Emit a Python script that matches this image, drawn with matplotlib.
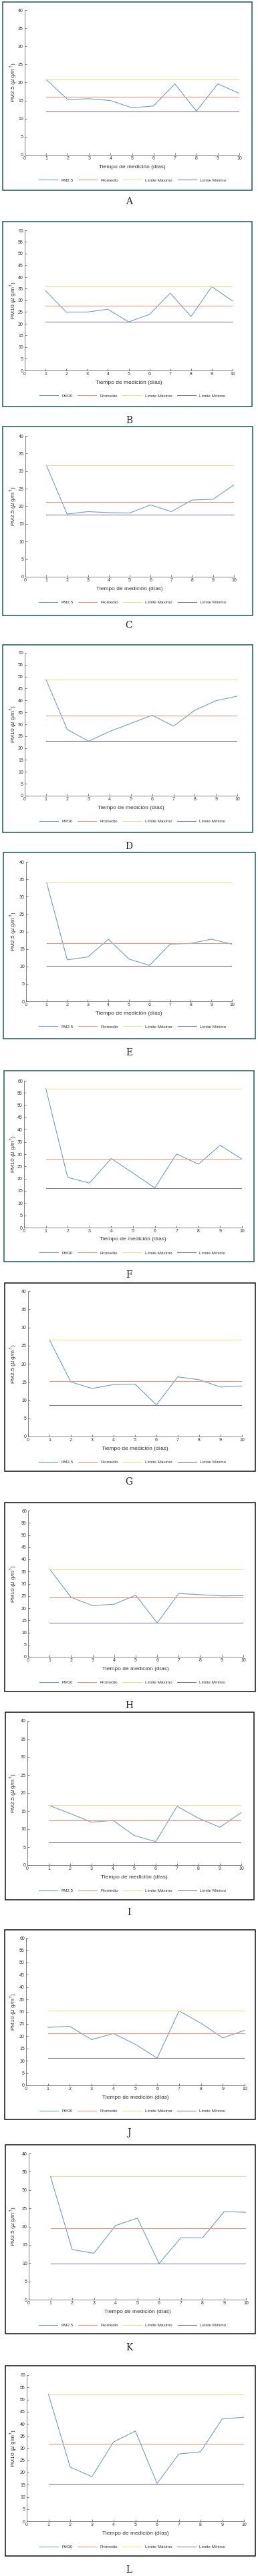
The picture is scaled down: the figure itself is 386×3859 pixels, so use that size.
import matplotlib
matplotlib.use('Agg')
import matplotlib.pyplot as plt
from matplotlib.patches import Rectangle

# datos
dias = [1, 2, 3, 4, 5, 6, 7, 8, 9, 10]
letras = ['A', 'B', 'C', 'D', 'E', 'F', 'G', 'H', 'I', 'J', 'K', 'L']
nombre_leyenda = ['PM2.5', 'PM10', 'PM2,5', 'PM10', 'PM2.5', 'PM10',
                  'PM2,5', 'PM10', 'PM2,5', 'PM10', 'PM2.5', 'PM10']
nombre_eje = ['PM2.5', 'PM10', 'PM2.5', 'PM10', 'PM2,5', 'PM10',
              'PM2.5', 'PM10', 'PM2.5', 'PM10', 'PM2.5', 'PM10']
ymax = [40, 60, 40, 60, 40, 60, 40, 60, 40, 60, 40, 60]

pm_A = [20.8, 15.3, 15.5, 15.0, 13.0, 13.5, 19.6, 12.1, 19.6, 17.0]
pm_B = [34.1, 25.0, 25.0, 26.2, 20.8, 24.0, 33.1, 23.1, 35.9, 29.7]
pm_C = [31.7, 17.8, 18.5, 18.2, 18.1, 20.4, 18.5, 21.8, 22.0, 26.1]
pm_D = [48.8, 27.8, 22.9, 27.0, 30.4, 33.8, 29.2, 35.9, 39.9, 41.8]
pm_E = [34.0, 11.9, 12.7, 17.8, 12.1, 10.3, 16.4, 16.6, 17.8, 16.4]
pm_F = [56.8, 20.5, 18.2, 28.2, 22.3, 16.2, 30.1, 25.9, 33.6, 28.0]
pm_G = [26.6, 15.0, 13.2, 14.3, 14.4, 8.7, 16.4, 15.6, 13.6, 13.9]
pm_H = [36.0, 24.4, 21.0, 21.6, 25.3, 13.9, 26.0, 25.5, 25.0, 25.1]
pm_I = [16.6, 14.3, 11.9, 12.4, 8.2, 6.5, 16.3, 13.0, 10.5, 14.6]
pm_J = [23.6, 24.0, 18.6, 21.1, 16.7, 11.1, 30.3, 25.3, 19.3, 22.4]
pm_K = [33.7, 13.7, 12.7, 20.3, 22.3, 9.9, 16.9, 16.9, 24.1, 23.9]
pm_L = [52.1, 22.2, 18.3, 32.6, 37.0, 15.5, 27.6, 28.5, 42.0, 42.7]
series = [pm_A, pm_B, pm_C, pm_D, pm_E, pm_F, pm_G, pm_H, pm_I, pm_J, pm_K, pm_L]

promedio = [16.1, 27.6, 21.2, 33.6, 16.6, 28.0, 15.2, 24.4, 12.5, 21.1, 19.5, 31.8]
lim_max = [20.8, 35.9, 31.7, 48.8, 34.0, 56.8, 26.6, 36.0, 16.6, 30.3, 33.7, 52.1]
lim_min = [12.0, 20.8, 17.7, 23.1, 10.2, 16.2, 8.6, 13.9, 6.3, 11.1, 9.9, 15.3]

# posiciones en pixeles (imagen 386 x 3859)
W, H = 386.0, 3859.0
caja = [(4, 3, 377, 285), (4, 332, 377, 609), (4, 639, 378, 922), (4, 966, 378, 1247),
        (5, 1277, 382, 1556), (6, 1604, 380, 1890), (7, 1922, 382, 2204), (7, 2251, 382, 2534),
        (8, 2565, 380, 2846), (7, 2891, 382, 3175), (8, 3213, 382, 3496), (8, 3544, 382, 3829)]
ejes = [(37, 15, 358, 232), (37, 345, 348, 555), (38, 653, 350, 864), (37, 978, 355, 1192),
        (39, 1291, 347, 1500), (36, 1619, 362, 1839), (42, 1934, 362, 2152), (42, 2263, 364, 2482),
        (41, 2578, 361, 2794), (39, 2903, 366, 3124), (43, 3226, 368, 3445), (40, 3558, 365, 3777)]
pos_letra = [302, 630, 937, 1268, 1577, 1910, 2220, 2555, 2865, 3195, 3517, 3850]
color_caja = ['#1d5a5c'] * 6 + ['#111111'] * 6

c_pm = '#6f9fbf'
c_prom = '#e39a80'
c_max = '#efdc92'
c_min = '#857c9c'
c_eje = '#6a6a6a'

plt.rcParams['font.family'] = ['Liberation Sans', 'DejaVu Sans']

fig = plt.figure(figsize=(W / 100, H / 100), dpi=100)
fig.patch.set_facecolor('white')


def fx(p):
    return p / W


def fy(p):
    return 1 - p / H


for i in range(12):
    bx0, by0, bx1, by1 = caja[i]
    fig.patches.append(Rectangle((fx(bx0), fy(by1)), fx(bx1 - bx0), (by1 - by0) / H,
                                 transform=fig.transFigure, fill=False,
                                 edgecolor=color_caja[i], linewidth=1.1))
    x0, y0, x1, y1 = ejes[i]
    ax = fig.add_axes([fx(x0), fy(y1), fx(x1 - x0), (y1 - y0) / H])
    ax.plot(dias, series[i], color=c_pm, lw=0.8, label=nombre_leyenda[i])
    ax.plot(dias, [promedio[i]] * len(dias), color=c_prom, lw=0.8, label='Promedio')
    ax.plot(dias, [lim_max[i]] * len(dias), color=c_max, lw=0.8, label='Límite Máximo')
    ax.plot(dias, [lim_min[i]] * len(dias), color=c_min, lw=0.8, label='Límite Mínimo')
    ax.set_xlim(0, 10)
    ax.set_ylim(0, ymax[i])
    ax.set_xticks(range(0, 11))
    ax.set_yticks(range(0, ymax[i] + 1, 5))
    for s in ['top', 'right']:
        ax.spines[s].set_visible(False)
    for s in ['left', 'bottom']:
        ax.spines[s].set_color(c_eje)
        ax.spines[s].set_linewidth(0.6)
    ax.tick_params(direction='in', length=2, width=0.6, color=c_eje,
                   labelsize=5, labelcolor='#333333', pad=1.5)
    ax.patch.set_alpha(0)

    xc = (x0 + x1) / 2
    fig.text(fx(xc), fy(y1 + 18), 'Tiempo de medición (días)', ha='center', va='center',
             fontsize=6, color='#333333')
    fig.text(fx(20), fy((y0 + y1) / 2), nombre_eje[i] + ' ($\\mu$ g/m$^{3}$)',
             rotation=90, ha='center', va='center', fontsize=6, color='#333333')
    ax.legend(loc='center', bbox_to_anchor=(fx(198), fy(y1 + 38)),
              bbox_transform=fig.transFigure, ncol=4, frameon=False, fontsize=4.5,
              handlelength=4.5, columnspacing=1.2, handletextpad=0.8,
              labelcolor='#333333')
    fig.text(fx(193), fy(pos_letra[i]), letras[i], ha='center', va='center',
             fontsize=10, family='DejaVu Serif', color='#222222')

fig.savefig('out.png', dpi=100, facecolor='white')
